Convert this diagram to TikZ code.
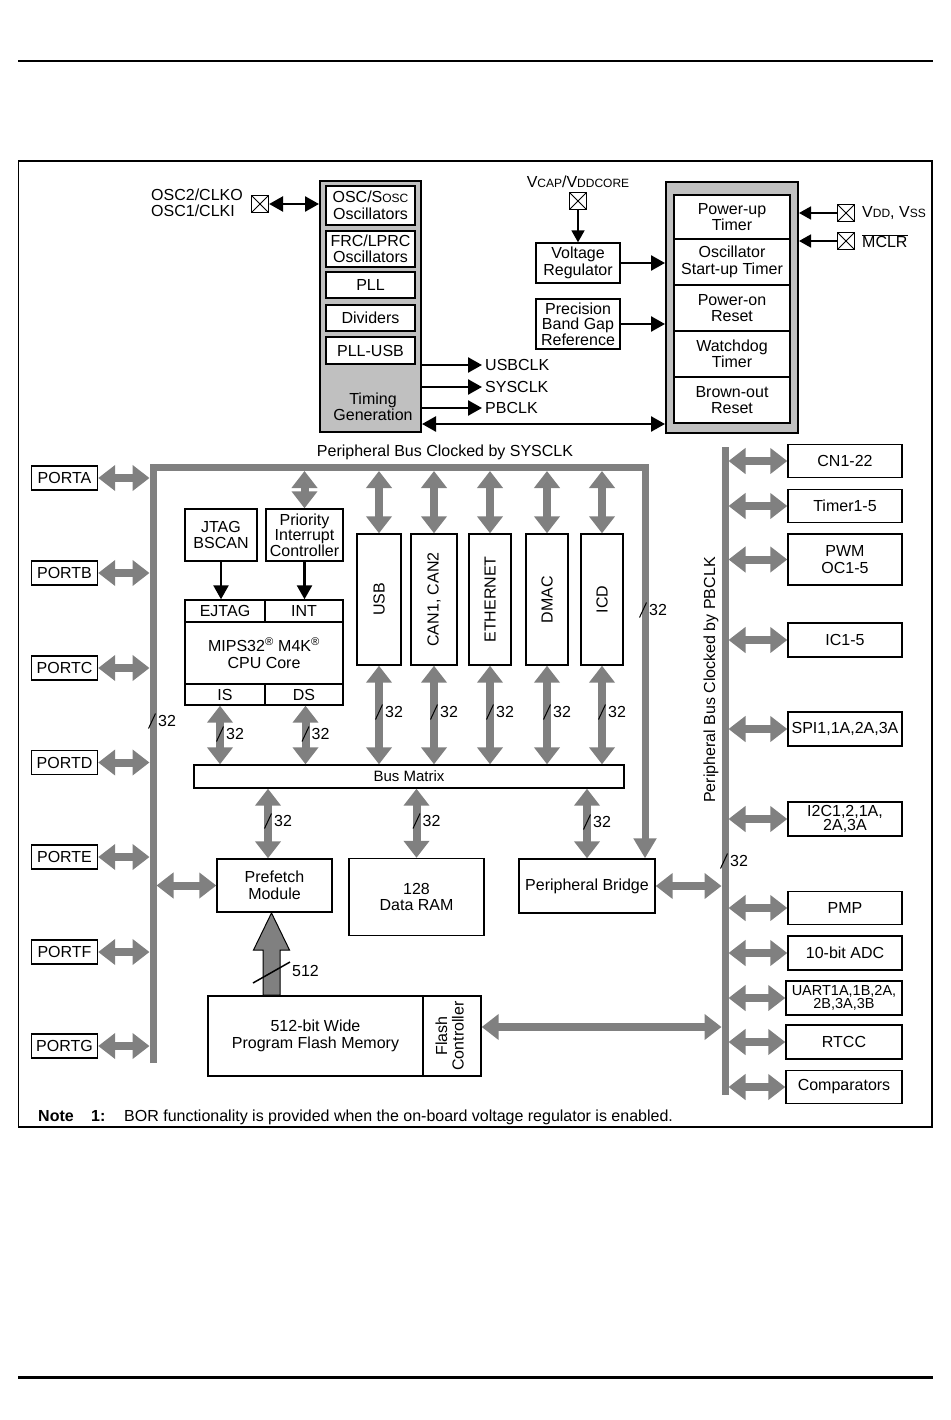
\documentclass[tikz,border=0pt]{standalone}
\usepackage{fontspec}
\setmainfont{Liberation Sans}
\usepackage{graphicx}
\usetikzlibrary{arrows.meta,calc}
\definecolor{busgray}{RGB}{128,128,128}
\definecolor{boxgray}{RGB}{192,192,192}
\newcommand\smc[1]{{\fontsize{12}{12}\selectfont #1}}
\newcommand\bwlab[4][32]{%
  \draw[slashline] (#3-3.5,#4+7.5) -- (#3+3.5,#4-7.5);
  \node[anchor=west] (#2) at (#3+6,#4) {#1};}
\begin{document}
\begin{tikzpicture}[x=1pt,y=-1pt,
  every node/.style={font=\fontsize{16}{16.5}\selectfont, inner sep=0pt, align=center},
  wh/.style 2 args={minimum width=#1pt, minimum height=#2pt},
  box/.style={draw, line width=1.4pt, fill=white},
  pinbox/.style={draw, line width=1.2pt, fill=white, minimum size=17pt,
    path picture={\draw[line width=1pt] (path picture bounding box.north west) -- (path picture bounding box.south east)
      (path picture bounding box.north east) -- (path picture bounding box.south west);}},
  garrow/.style={draw=busgray, line width=8pt, {Triangle[length=17pt,width=25pt]}-{Triangle[length=17pt,width=25pt]}},
  barrow/.style={line width=2.5pt, -{Triangle[length=14pt,width=15pt]}},
  dbarrow/.style={line width=2.5pt, {Triangle[length=14pt,width=15pt]}-{Triangle[length=14pt,width=15pt]}},
  tarrow/.style={line width=1.8pt, -{Triangle[length=12pt,width=13pt]}},
  busline/.style={draw=busgray, line width=7pt},
  slashline/.style={line width=1pt},
]
\useasboundingbox (0,0) rectangle (950,1420);

% page rules and frame
\draw[line width=2pt] (18,61) -- (933,61);
\draw[line width=3pt] (18,1377) -- (933,1377);
\draw[line width=1.3pt] (18.5,161) rectangle (932,1127);

% ---------- timing generation ----------
\node[draw, line width=2pt, fill=boxgray, wh={101}{251}] (tg) at (370.5,306.5) {};
\node[box, wh={89}{39}] (osc) at (370.5,205.5) {OSC/S\smc{OSC}\\Oscillators};
\node[box, wh={89}{36}] (frc) at (370.5,249) {FRC/LPRC\\Oscillators};
\node[box, wh={89}{26}] (pll) at (370.5,285) {PLL};
\node[box, wh={89}{26}] (div) at (370.5,318) {Dividers};
\node[box, wh={89}{27}] (pllusb) at (370.5,350.5) {PLL-USB};
\node[font=\fontsize{16}{14.5}\selectfont] (tgtxt) at (373,407) {Timing\\Generation};

\node[anchor=west, align=left] (osclbl) at (151,203) {OSC2/CLKO\\OSC1/CLKI};
\node[pinbox] (oscpin) at (260,204) {};

\node[anchor=west] (usbclk) at (485,365) {USBCLK};
\node[anchor=west] (sysclk) at (485,387) {SYSCLK};
\node[anchor=west] (pbclk) at (485,408) {PBCLK};

% ---------- reset block ----------
\node[draw, line width=2pt, fill=boxgray, wh={132}{251}] (rst) at (732,307.5) {};
\node[box, wh={116}{44}] (pwrt) at (732,217) {Power-up\\Timer};
\node[box, wh={116}{46}] (ost) at (732,262) {Oscillator\\Start-up Timer};
\node[box, wh={116}{46}] (por) at (732,308) {Power-on\\Reset};
\node[box, wh={116}{46}] (wdt) at (732,354) {Watchdog\\Timer};
\node[box, wh={116}{46}] (bor) at (732,400) {Brown-out\\Reset};

\node (vcaplbl) at (578,182) {V\smc{CAP}/V\smc{DDCORE}};
\node[pinbox] (vcappin) at (578,201) {};
\node[box, wh={84}{40}] (vr) at (578,263) {Voltage\\Regulator};
\node[box, wh={84}{50}, font=\fontsize{16}{15.5}\selectfont] (pbg) at (578,324) {Precision\\Band Gap\\Reference};

\node[pinbox] (vddpin) at (846,213) {};
\node[anchor=west] (vddlbl) at (862,213) {V\smc{DD}, V\smc{SS}};
\node[pinbox] (mclrpin) at (846,241) {};
\node[anchor=west] (mclrlbl) at (862,241) {$\overline{\mbox{MCLR}}$};

% ---------- left ports ----------
\coordinate (lbusL) at (149.5,0);
\coordinate (lbusR) at (156.5,0);
\coordinate (rbusL) at (721.5,0);
\coordinate (rbusR) at (728.5,0);
\foreach \n/\y in {A/478,B/573,C/668,D/762.5,E/857,F/952,G/1046}{
  \node[box, wh={66}{24}] (port\n) at (64.5,\y) {PORT\n};
}

% ---------- core ----------
\node[box, wh={72}{52}] (jtag) at (221,535) {JTAG\\BSCAN};
\node[box, wh={77}{52}, font=\fontsize{16}{15.5}\selectfont] (pic) at (304.5,535) {Priority\\Interrupt\\Controller};
\node[box, wh={80}{22}] (ejtag) at (225,611) {EJTAG};
\node[box, wh={78}{22}] (int) at (304,611) {INT};
\node[box, wh={158}{62}] (core) at (264,653) {MIPS32\textsuperscript{\textregistered} M4K\textsuperscript{\textregistered}\\CPU Core};
\node[box, wh={80}{21}] (is) at (225,694.5) {IS};
\node[box, wh={78}{21}] (ds) at (304,694.5) {DS};

\node[box, wh={44}{131}] (usb) at (379,599.5) {\rotatebox{90}{USB}};
\node[box, wh={46}{131}] (can) at (434,599.5) {\rotatebox{90}{CAN1, CAN2}};
\node[box, wh={42}{131}] (eth) at (490,599.5) {\rotatebox{90}{ETHERNET}};
\node[box, wh={42}{131}] (dmac) at (547,599.5) {\rotatebox{90}{DMAC}};
\node[box, wh={42}{131}] (icd) at (602,599.5) {\rotatebox{90}{ICD}};

\node[box, wh={430}{23}, font=\fontsize{15}{15}\selectfont] (bm) at (409,776.5) {Bus Matrix};

\node[box, wh={115}{53}] (pf) at (274.5,885.5) {Prefetch\\Module};
\node[box, wh={135}{77}] (ram) at (416.5,897) {128\\Data RAM};
\node[box, wh={136}{54}] (pb) at (587,886) {Peripheral Bridge};

\node[box, wh={215}{80}, font=\fontsize{16}{17.5}\selectfont] (fm) at (315.5,1036) {512-bit Wide\\Program Flash Memory};
\node[box, wh={58}{80}] (fc) at (452,1036) {\rotatebox{90}{\begin{tabular}{@{}c@{}}Flash\\Controller\end{tabular}}};

% ---------- right peripherals ----------
\node[box, wh={114}{33}] (cn) at (845,461) {CN1-22};
\node[box, wh={114}{33}] (tmr) at (845,506) {Timer1-5};
\node[box, wh={114}{51}] (pwm) at (845,559.5) {PWM\\OC1-5};
\node[box, wh={114}{34}] (ic) at (845,640) {IC1-5};
\node[box, wh={114}{34}] (spi) at (845,729) {SPI1,1A,2A,3A};
\node[box, wh={114}{34}, font=\fontsize{16}{14.5}\selectfont] (i2c) at (845,819) {I2C1,2,1A,\\2A,3A};
\node[box, wh={114}{33}] (pmp) at (845,908) {PMP};
\node[box, wh={114}{34}] (adc) at (845,953) {10-bit ADC};
\node[box, wh={116}{34}, font=\fontsize{14.5}{13}\selectfont] (uart) at (844,998) {UART1A,1B,2A,\\2B,3A,3B};
\node[box, wh={116}{34}] (rtcc) at (844,1042) {RTCC};
\node[box, wh={116}{33}] (cmp) at (844,1087) {Comparators};

% ---------- buses ----------
\coordinate (sbl) at (153,1063);
\coordinate (sbc) at (645,467);
\draw[busline, line join=miter, -{Triangle[length=20pt,width=22pt]}] (sbl) |- (sbc) -- (sbc |- pb.north);
\node (sbuslbl) at (445,452) {Peripheral Bus Clocked by SYSCLK};
\coordinate (pbbt) at (725,447);
\coordinate (pbbb) at (725,1095);
\draw[busline] (pbbt) -- (pbbb);
\node[rotate=90] (pbcklbl) at (711,680) {Peripheral Bus Clocked by PBCLK};

% ---------- black connectors ----------
\draw[dbarrow] (oscpin.east) -- (oscpin.east -| tg.west);
\draw[barrow] (usbclk.west -| tg.east) -- ([xshift=-3pt]usbclk.west);
\draw[barrow] (sysclk.west -| tg.east) -- ([xshift=-3pt]sysclk.west);
\draw[barrow] (pbclk.west -| tg.east) -- ([xshift=-3pt]pbclk.west);
\draw[dbarrow] (tg.east |- 0,424) -- (rst.west |- 0,424);
\draw[tarrow] (vcappin.south) -- (vr.north);
\draw[barrow] (vr.east) -- (vr.east -| rst.west);
\draw[barrow] (pbg.east) -- (pbg.east -| rst.west);
\draw[tarrow] (vddpin.west) -- (vddpin.west -| rst.east);
\draw[tarrow] (mclrpin.west) -- (mclrpin.west -| rst.east);
\draw[barrow] (jtag.south) -- (jtag.south |- ejtag.north);
\draw[barrow] (pic.south) -- (pic.south |- int.north);

% ---------- gray connectors ----------
\foreach \n in {A,B,C,D,E,F,G}{
  \draw[garrow] (port\n.east) -- (port\n.east -| lbusL);
}
\draw[garrow] (pic.north |- 0,471) -- (pic.north);
\foreach \b in {usb,can,eth,dmac,icd}{
  \draw[garrow] (\b.north |- 0,471) -- (\b.north);
  \draw[garrow] (\b.south) -- (\b.south |- bm.north);
}
\draw[garrow] ([xshift=-5pt]is.south) -- ([xshift=-5pt]is.south |- bm.north);
\draw[garrow] ([xshift=1.5pt]ds.south) -- ([xshift=1.5pt]ds.south |- bm.north);
\draw[garrow] (bm.south -| 268,0) -- (pf.north -| 268,0);
\draw[garrow] (bm.south -| ram.north) -- (ram.north);
\draw[garrow] (bm.south -| pb.north) -- (pb.north);
\draw[garrow] (pf.west -| lbusR) -- (pf.west);
\draw[garrow] (pb.east) -- (pb.east -| rbusL);
\draw[garrow] ([yshift=9pt]fc.east) -- ([yshift=9pt]fc.east -| rbusL);
\foreach \b in {cn,tmr,pwm,ic,spi,i2c,pmp,adc,uart,rtcc,cmp}{
  \draw[garrow] (\b.west -| rbusR) -- (\b.west);
}

% big 512 bus from flash to prefetch
\coordinate (bigtip) at (271.5,913);
\draw[fill=busgray, line width=1pt, line join=miter]
  (bigtip) -- ++(18,37) -- ++(-9.5,0) -- ++(0,45) -- ++(-17,0) -- ++(0,-45) -- ++(-9.5,0) -- cycle;
\draw[line width=1.5pt] (253,983) -- (290,962);
\node[anchor=west] (w512) at (292,971) {512};

% ---------- bus width labels ----------
\bwlab{wl}{152}{721}
\bwlab{wr}{643}{610}
\bwlab{w1}{379}{712}
\bwlab{w2}{434}{712}
\bwlab{w3}{490}{712}
\bwlab{w4}{547}{712}
\bwlab{w5}{602}{712}
\bwlab{wis}{220}{734}
\bwlab{wds}{305.5}{734}
\bwlab{wpf}{268}{821}
\bwlab{wram}{416.5}{821}
\bwlab{wpb}{587}{822}
\bwlab{wpbc}{724}{861}

% ---------- note ----------
\node[anchor=base west, font=\fontsize{16}{16}\selectfont\bfseries] (note) at (38,1121) {Note};
\node[anchor=base west, font=\fontsize{16}{16}\selectfont\bfseries] (notenum) at (91,1121) {1:};
\node[anchor=base west] (notetxt) at (124,1121) {BOR functionality is provided when the on-board voltage regulator is enabled.};
\end{tikzpicture}
\end{document}
